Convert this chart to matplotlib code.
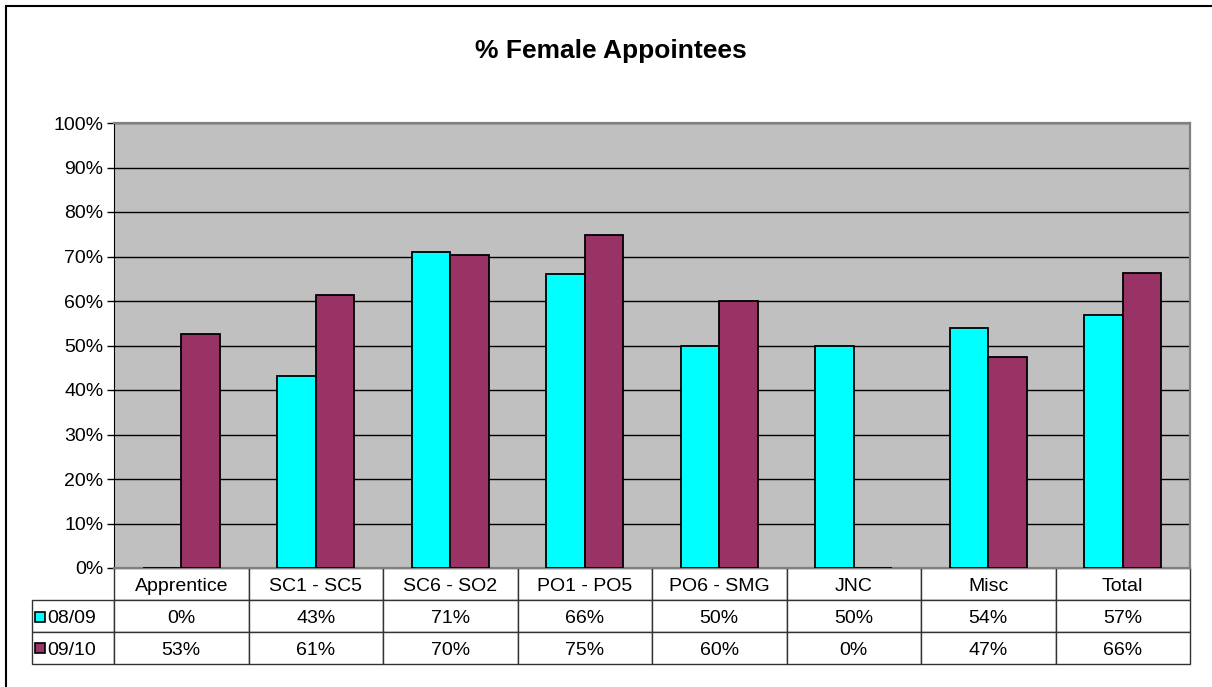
import matplotlib
matplotlib.use("Agg")
import matplotlib.pyplot as plt
from matplotlib.patches import Rectangle
from matplotlib.transforms import Affine2D

plt.rcParams['font.family'] = ['Liberation Sans', 'DejaVu Sans']

categories = ['Apprentice', 'SC1 - SC5', 'SC6 - SO2', 'PO1 - PO5',
              'PO6 - SMG', 'JNC', 'Misc', 'Total']
series_names = ['08/09', '09/10']
vals_0809 = [0.0, 43.1, 70.9, 66.0, 50.0, 50.0, 54.0, 56.9]
vals_0910 = [52.6, 61.4, 70.3, 74.8, 60.0, 0.0, 47.4, 66.3]
colors = ['#00FFFF', '#993366']
yticks = list(range(0, 101, 10))

W, H = 1212, 687
fig = plt.figure(figsize=(W / 100, H / 100), dpi=100)
fig.patch.set_facecolor('white')

# outer chart border (only top/left are visible in the reference)
fig.patches.append(Rectangle((6 / W, -0.2), 1.3, 1 - 6 / H + 0.2,
                             transform=fig.transFigure, fill=False,
                             edgecolor='black', linewidth=1.5))

ax = fig.add_axes([114 / W, 119 / H, 1076 / W, 445 / H])
ax.set_facecolor('#C0C0C0')

n = len(categories)
w = 1 / 3.5
x = list(range(n))
ax.bar([i - w / 2 for i in x], vals_0809, width=w, color=colors[0],
       edgecolor='black', linewidth=1.3, zorder=3)
ax.bar([i + w / 2 for i in x], vals_0910, width=w, color=colors[1],
       edgecolor='black', linewidth=1.3, zorder=3)

ax.set_xlim(-0.5, n - 0.5)
ax.set_ylim(0, 100)
ax.set_yticks(yticks)
ax.set_yticklabels([f'{t}%' for t in yticks], fontsize=14)
ax.set_xticks([])
ax.yaxis.grid(True, color='black', linewidth=1)
ax.set_axisbelow(True)
ax.tick_params(axis='y', direction='out', length=5, width=1, pad=2.5)
ax.spines['left'].set_color('black')
for s in ['top', 'right', 'bottom']:
    ax.spines[s].set_color('#808080')
    ax.spines[s].set_linewidth(1.6)

fig.text(610.5 / W, 1 - 51 / H, '% Female Appointees', fontsize=19,
         fontweight='bold', ha='center', va='center')

# data table under the plot, first column holds the series names
cell_text = [[series_names[0]] + [f'{round(v):.0f}%' for v in vals_0809],
             [series_names[1]] + [f'{round(v):.0f}%' for v in vals_0910]]
x0 = (32 - 114) / 1076
tbl = ax.table(cellText=cell_text, colLabels=[''] + categories,
               cellLoc='center', colWidths=[82] + [134.5] * n,
               bbox=[x0, -96 / 445, 1 - x0, 96 / 445])
tbl.auto_set_font_size(False)
tbl.set_fontsize(14)
for (r, c), cell in tbl.get_celld().items():
    cell.set_edgecolor('#333333')
    cell.set_linewidth(1)
    cell.set_facecolor('white')
    # nudge text a little below the cell middle, like the original
    cell.get_text().set_transform(Affine2D().translate(0, -2.5))
    if c == 0:
        cell.PAD = 15 / 82
        cell.get_text().set_ha('left')
        if r == 0:
            cell.visible_edges = ''

# legend keys in the row label cells
for k, col in enumerate(colors):
    yc = (-(33 + 15.5) - k * 31.5) / 445
    ax.add_patch(Rectangle(((35 - 114) / 1076, yc - 5 / 445), 10 / 1076, 10 / 445,
                           transform=ax.transAxes, clip_on=False,
                           facecolor=col, edgecolor='black', linewidth=1.2,
                           zorder=5))

fig.savefig('out.png', dpi=100)
